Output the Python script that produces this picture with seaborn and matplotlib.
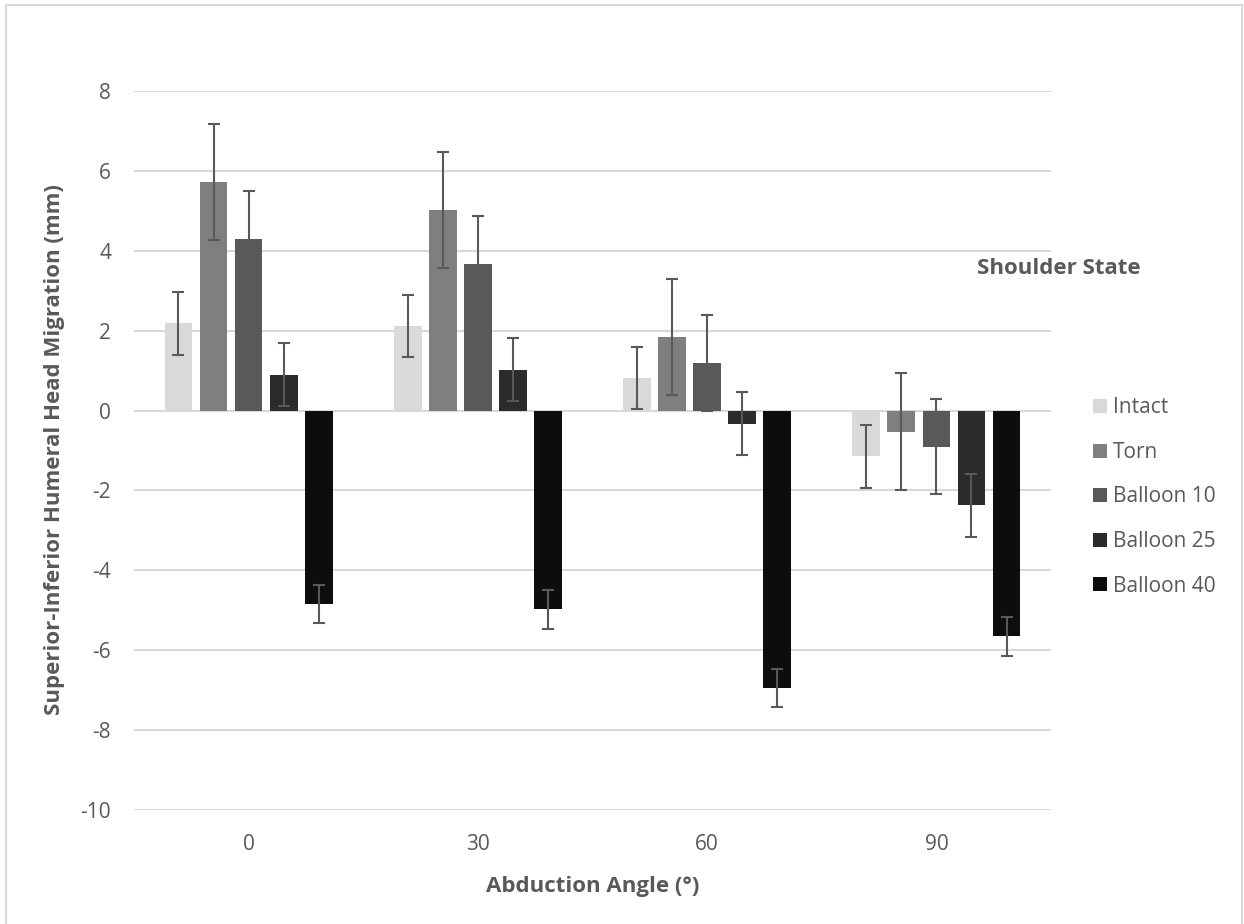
import pandas as pd
import matplotlib.pyplot as plt
import seaborn as sns
from matplotlib.patches import Rectangle

# 数据
angles = ['0', '30', '60', '90']
states = ['Intact', 'Torn', 'Balloon 10', 'Balloon 25', 'Balloon 40']
intact = [2.18, 2.11, 0.82, -1.15]
torn = [5.72, 5.02, 1.84, -0.53]
balloon10 = [4.29, 3.67, 1.19, -0.90]
balloon25 = [0.90, 1.02, -0.33, -2.37]
balloon40 = [-4.85, -4.98, -6.95, -5.65]
err_intact = [0.78, 0.78, 0.78, 0.78]
err_torn = [1.45, 1.46, 1.46, 1.46]
err_b10 = [1.21, 1.20, 1.20, 1.20]
err_b25 = [0.79, 0.79, 0.79, 0.79]
err_b40 = [0.48, 0.49, 0.48, 0.49]

values = [intact, torn, balloon10, balloon25, balloon40]
errors = [err_intact, err_torn, err_b10, err_b25, err_b40]
colors = ['#d9d9d9', '#7f7f7f', '#595959', '#2b2b2b', '#0d0d0d']

rows = []
for s, vals in zip(states, values):
    for a, v in zip(angles, vals):
        rows.append({'angle': a, 'state': s, 'value': v})
df = pd.DataFrame(rows)

sns.set_theme(style='white')
plt.rcParams['font.family'] = ['Open Sans', 'DejaVu Sans']
plt.rcParams['axes.unicode_minus'] = False
text_color = '#595959'

fig = plt.figure(figsize=(12.44, 9.24), dpi=100)
ax = fig.add_axes([0.1077, 0.1234, 0.7372, 0.7781])

sns.barplot(data=df, x='angle', y='value', hue='state', order=angles, hue_order=states,
            palette=colors, width=0.765, gap=0.21, errorbar=None, linewidth=0, ax=ax)
bar_conts = list(ax.containers)

# 误差线
for cont, err in zip(bar_conts, errors):
    xs = [p.get_x() + p.get_width() / 2 for p in cont.patches]
    ax.errorbar(xs, cont.datavalues, yerr=err, fmt='none', ecolor='#595959',
                elinewidth=1.5, capsize=4.3, capthick=1.5, zorder=5)

ax.set_ylim(-10, 8)
ax.set_xlim(-0.5, 3.5)
ax.set_yticks(range(-10, 9, 2))
ax.yaxis.grid(True, color='#d9d9d9', linewidth=1.5)
ax.set_axisbelow(True)
for sp in ax.spines.values():
    sp.set_visible(False)
ax.tick_params(axis='y', length=0, pad=16.5, labelsize=15, labelcolor=text_color)
ax.tick_params(axis='x', length=0, pad=17, labelsize=15, labelcolor=text_color)

ax.set_xlabel('Abduction Angle (°)', fontsize=16, fontweight='bold', color=text_color, labelpad=15.5)
ax.set_ylabel('Superior-Inferior Humeral Head Migration (mm)', fontsize=16, fontweight='bold',
              color=text_color, rotation_mode='default', ha='center', va='center')
ax.yaxis.set_label_coords(55 / 1244, 1 - 450 / 924, transform=fig.transFigure)

# 图例
ax.get_legend().remove()
handles = [cont.patches[0] for cont in bar_conts]
fig.legend(handles, states, loc='upper left', bbox_to_anchor=(0.872, 0.579), frameon=False,
           fontsize=15, labelcolor=text_color, handlelength=0.66, handleheight=0.66,
           handletextpad=0.3, labelspacing=1.13, borderaxespad=0)
fig.text(977 / 1244, 1 - 268 / 924, 'Shoulder State', fontsize=16, fontweight='bold',
         color=text_color, ha='left', va='center')

# 外框
fig.patches.append(Rectangle((6 / 1244, -0.02), 1236 / 1244, 1.02 - 5 / 924, transform=fig.transFigure,
                             fill=False, edgecolor='#d9d9d9', linewidth=1.5))

fig.savefig('out.png', dpi=100)
